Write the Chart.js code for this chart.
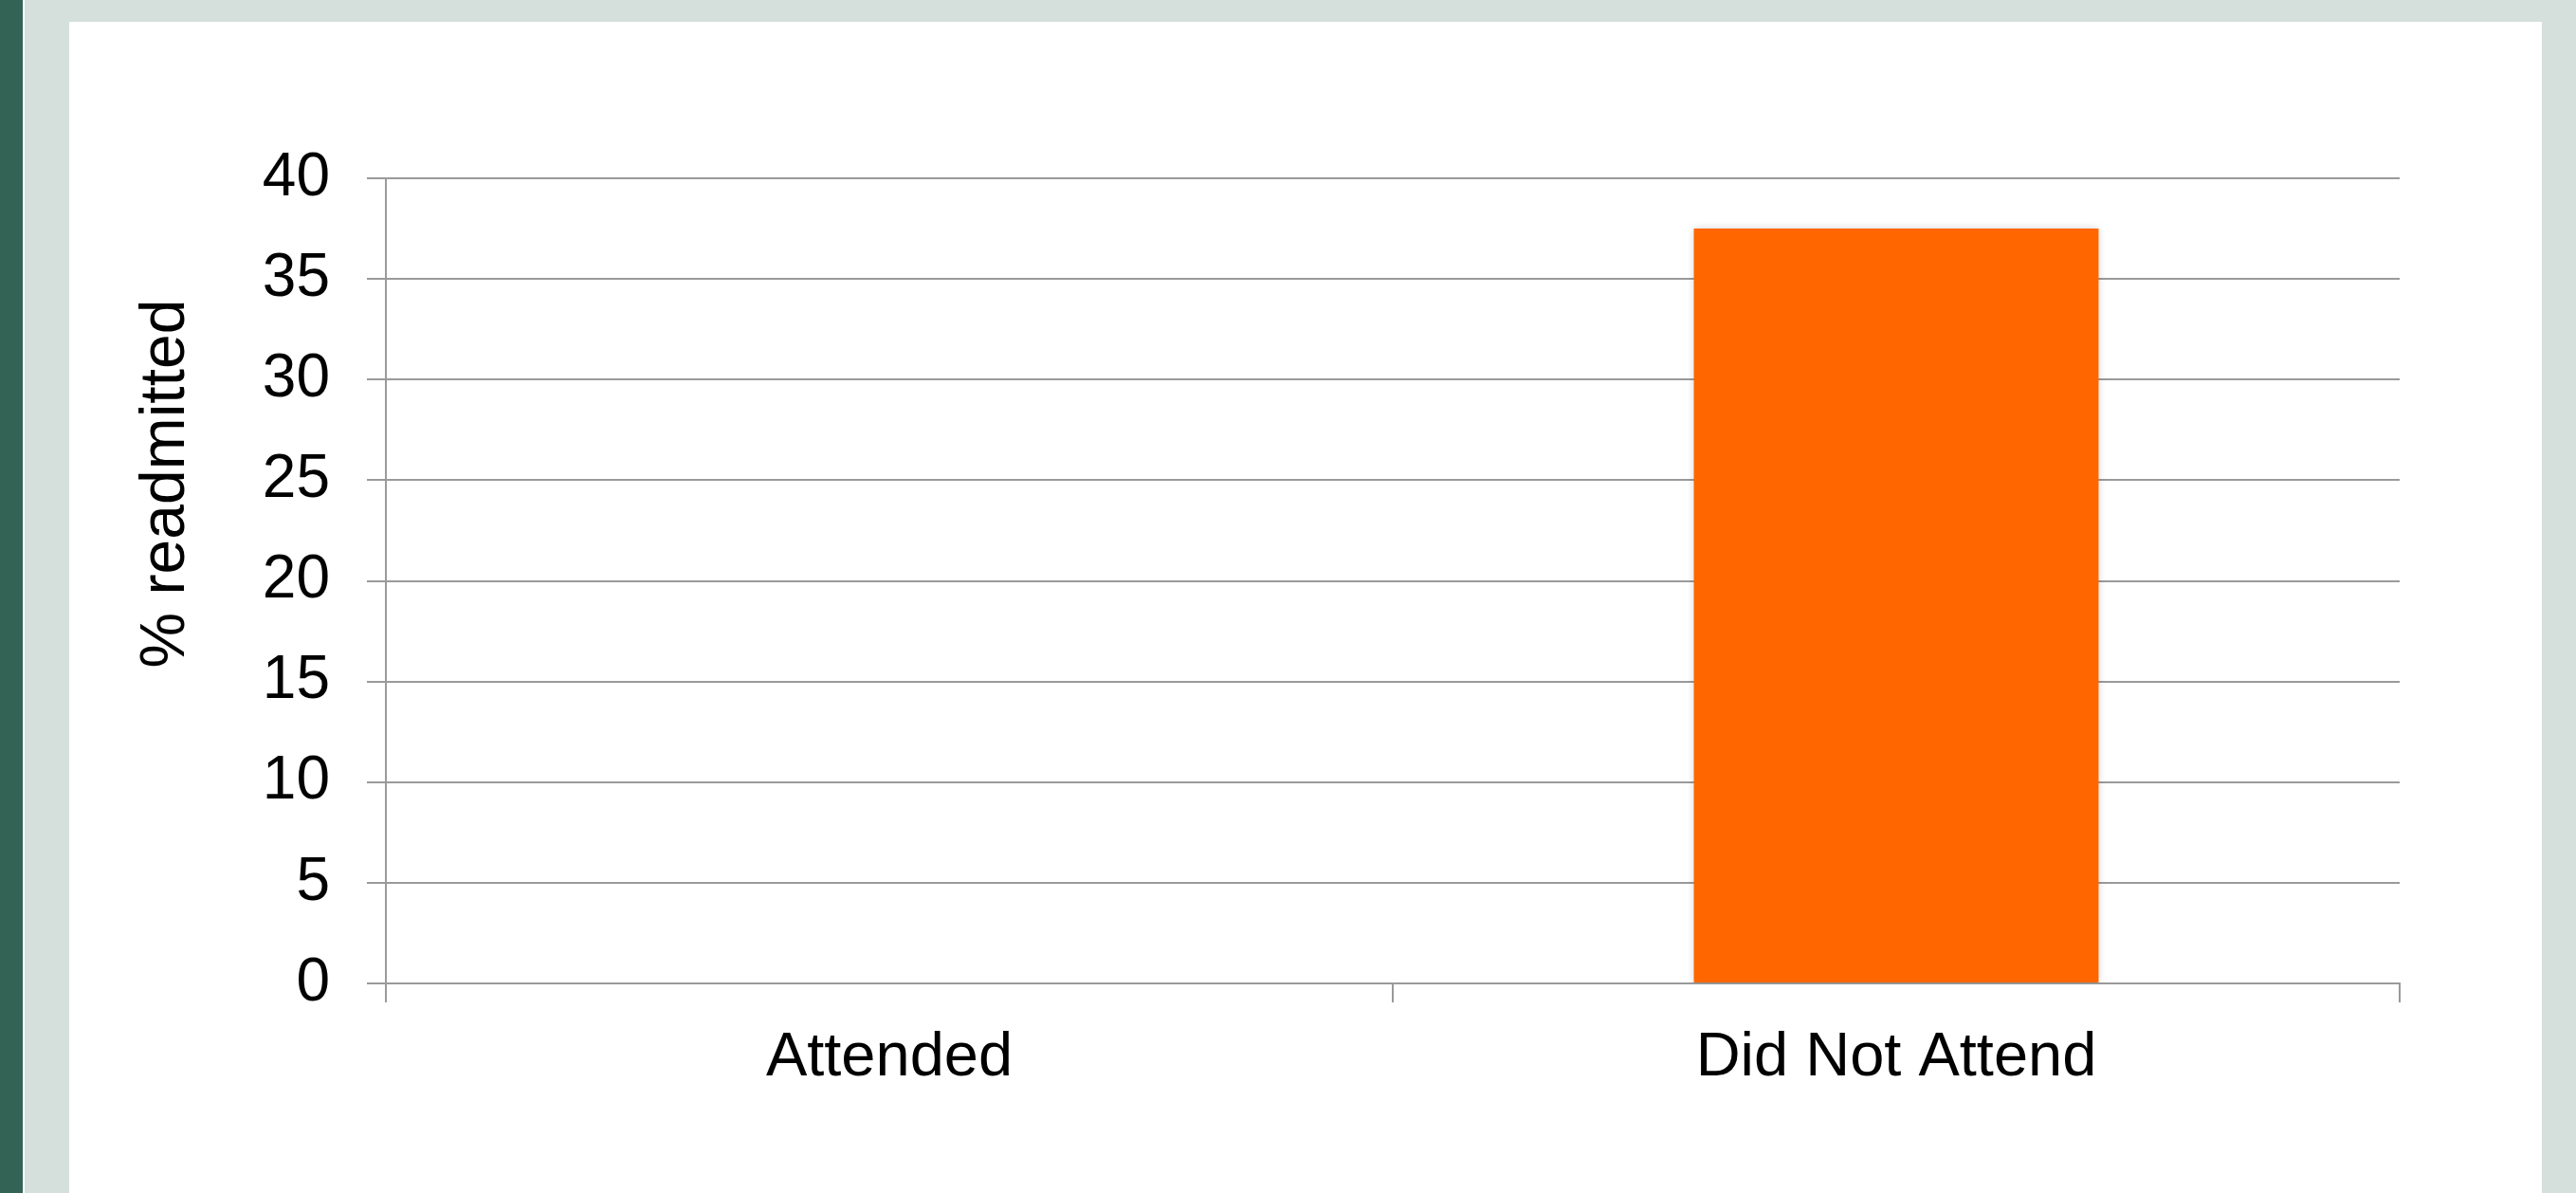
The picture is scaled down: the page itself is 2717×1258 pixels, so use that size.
<!DOCTYPE html>
<html>
<head>
<meta charset="utf-8">
<script src="https://cdn.jsdelivr.net/npm/chart.js@4"></script>
<style>
  html, body { margin: 0; padding: 0; }
  body { width: 2717px; height: 1258px; background: #d5dfdc; position: relative; overflow: hidden; }
  .strip { position: absolute; left: 0; top: 0; width: 24px; height: 100%; background: #336355; border-right: 2px solid #fff; }
  .panel { position: absolute; left: 73px; top: 23px; width: 2608px; height: 1235px; background: #fff; }
</style>
</head>
<body>
<div class="strip"></div>
<div class="panel"><canvas id="myChart" width="2608" height="1235"></canvas></div>
<script>
var ctx = document.getElementById("myChart").getContext("2d");

var categories = ["Attended", "Did Not Attend"];
var readmittedPct = [0, 37.5];
var yTicks = [0, 5, 10, 15, 20, 25, 30, 35, 40];
var yTitle = "% readmitted";

var fontFamily = "'Liberation Sans', Arial, sans-serif";
var gridColor = "#9a9a9a";

// rotated axis title, sits higher than the plot centre
var yTitlePlugin = {
  id: "yTitle",
  afterDraw: function (chart) {
    var c = chart.ctx;
    var area = chart.chartArea;
    c.save();
    c.translate(area.left - 231, area.top + 322);
    c.rotate(-Math.PI / 2);
    c.font = "66px " + fontFamily;
    c.fillStyle = "#000";
    c.textAlign = "center";
    c.textBaseline = "middle";
    c.fillText(yTitle, 0, 0);
    c.restore();
  },
};

// soft shadow behind the bars
var barShadow = {
  id: "barShadow",
  beforeDatasetDraw: function (chart) {
    chart.ctx.save();
    chart.ctx.shadowColor = "rgba(0,0,0,0.18)";
    chart.ctx.shadowBlur = 8;
  },
  afterDatasetDraw: function (chart) {
    chart.ctx.restore();
  },
};

var myChart = new Chart(ctx, {
  type: "bar",
  data: {
    labels: categories,
    datasets: [
      {
        label: yTitle,
        data: readmittedPct,
        backgroundColor: "#ff6600",
        borderWidth: 0,
        categoryPercentage: 1,
        barPercentage: 0.402,
      },
    ],
  },
  options: {
    responsive: false,
    animation: false,
    plugins: {
      legend: { display: false },
      tooltip: { enabled: false },
    },
    layout: {
      padding: { left: 0, top: 165, right: 150, bottom: 0 },
    },
    scales: {
      x: {
        grid: {
          offset: true,
          drawOnChartArea: false,
          drawTicks: true,
          tickLength: 20,
          color: gridColor,
          lineWidth: 2,
        },
        border: { display: true, color: gridColor, width: 2 },
        ticks: {
          color: "#000",
          font: { family: fontFamily, size: 65 },
          padding: 20,
          maxRotation: 0,
        },
        afterFit: function (scale) {
          scale.height = 221;
        },
      },
      y: {
        min: 0,
        max: 40,
        afterBuildTicks: function (scale) {
          scale.ticks = yTicks.map(function (v) {
            return { value: v };
          });
        },
        grid: {
          color: gridColor,
          lineWidth: 2,
          drawTicks: true,
          tickLength: 20,
        },
        border: { display: true, color: gridColor, width: 2 },
        ticks: {
          color: "#000",
          font: { family: fontFamily, size: 64 },
          padding: 39,
        },
        afterFit: function (scale) {
          scale.width = 334;
        },
      },
    },
  },
  plugins: [yTitlePlugin, barShadow],
});
</script>
</body>
</html>
